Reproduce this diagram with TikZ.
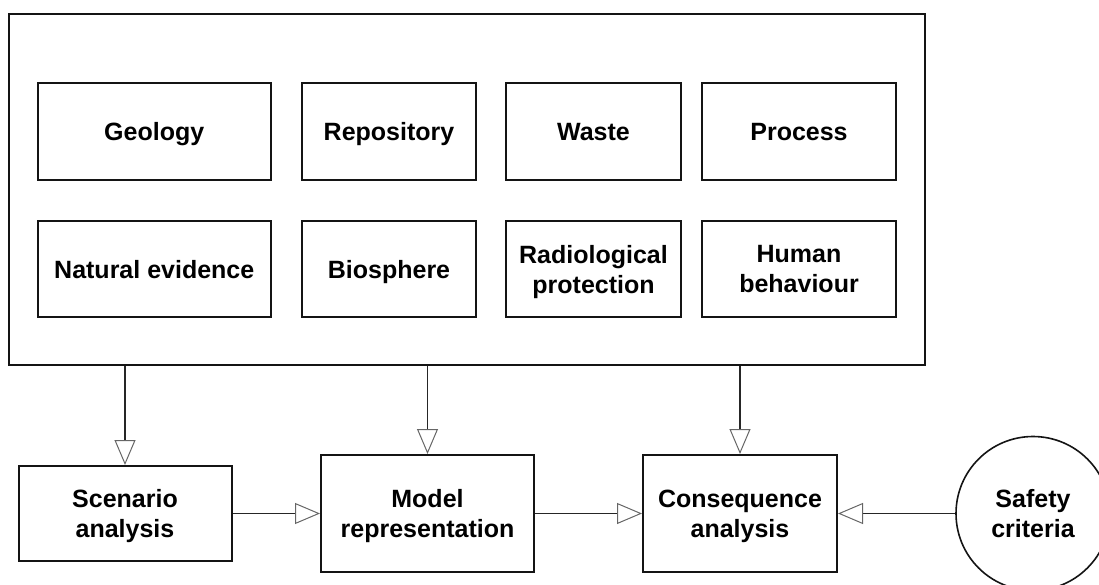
\documentclass[tikz,border=0pt]{standalone}
\usepackage{fontspec}
\setmainfont{Liberation Sans}
\usetikzlibrary{arrows.meta}
\begin{document}
\begin{tikzpicture}[x=1pt,y=-1pt,
  box/.style={draw=black!92, line width=2pt, fill=white, align=center,
    font=\fontsize{25}{30}\selectfont\bfseries, inner sep=0pt, text depth=0pt},
  conn/.style={line width=1.6pt, draw=black!85,
    -{Triangle[open, length=25pt, width=21pt, line width=1pt, color=black!60]}}
]
\useasboundingbox (0,0) rectangle (1099,585);

% enclosing frame of the assessment inputs
\node[box, minimum width=916.5pt, minimum height=350.5pt] (outer) at (466.75,189.75) {};

% first row of inputs
\node[box, minimum width=233.5pt, minimum height=97pt] (geo)  at (154.25,131.5) {Geology};
\node[box, minimum width=174pt,   minimum height=97pt] (repo) at (389,131.5)    {Repository};
\node[box, minimum width=175pt,   minimum height=97pt] (wst)  at (593.5,131.5)  {Waste};
\node[box, minimum width=194pt,   minimum height=97pt] (proc) at (799,131.5)    {Process};

% second row of inputs
\node[box, minimum width=233.5pt, minimum height=96pt] (nat)  at (154.25,269) {Natural evidence};
\node[box, minimum width=174pt,   minimum height=96pt] (bio)  at (389,269)    {Biosphere};
\node[box, minimum width=175pt,   minimum height=96pt] (rad)  at (593.5,269)  {Radiological\\protection};
\node[box, minimum width=194pt,   minimum height=96pt] (hum)  at (799,269)    {Human\\behaviour};

% analysis chain
\node[box, minimum width=213pt, minimum height=95pt]  (scen)  at (125,513.5)   {Scenario\\analysis};
\node[box, minimum width=213pt, minimum height=117pt] (model) at (427.5,513.5) {Model\\representation};
\node[box, minimum width=194pt, minimum height=117pt] (cons)  at (740,513.5)   {Consequence\\analysis};
\node[box, circle, line width=1.6pt, minimum size=154pt] (safe) at (1033,513.5) {Safety\\criteria};

% connectors
\draw[conn] (outer.south -| scen.north)  -- (scen.north);
\draw[conn] (outer.south -| model.north) -- (model.north);
\draw[conn] (outer.south -| cons.north)  -- (cons.north);
\draw[conn] (scen.east)  -- (model.west);
\draw[conn] (model.east) -- (cons.west);
\draw[conn] (safe.west)  -- (cons.east);
\end{tikzpicture}
\end{document}
